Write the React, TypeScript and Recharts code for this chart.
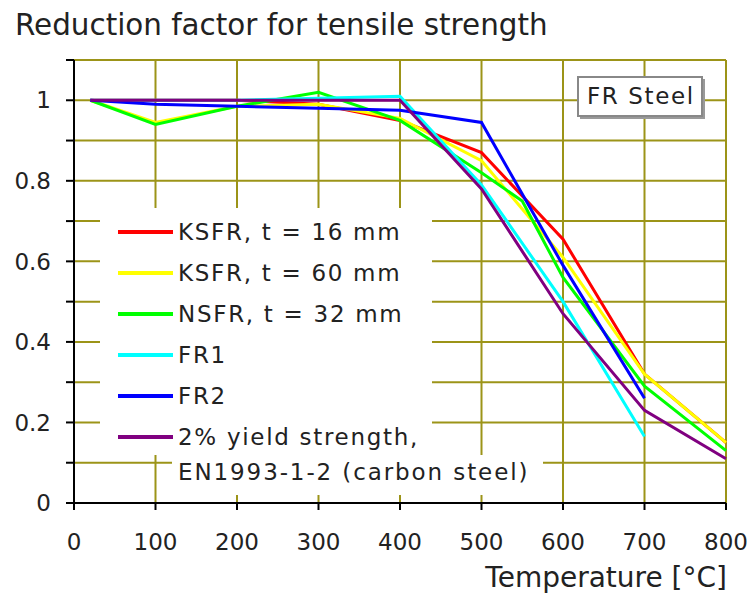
import React from 'react';
import { LineChart, Line, XAxis, YAxis, CartesianGrid, Legend, Customized } from 'recharts';

const temps = [20, 100, 200, 300, 400, 500, 550, 600, 700, 800];
const ksfr16 = [1, 1, 1, 0.99, 0.95, 0.87, null, 0.655, 0.32, 0.15];
const ksfr60 = [1, 0.945, 0.985, 0.99, 0.955, 0.85, null, 0.61, 0.32, 0.15];
const nsfr32 = [1, 0.94, 0.985, 1.02, 0.95, 0.82, 0.75, 0.56, 0.29, 0.13];
const fr1 = [1, 1, 1, 1.005, 1.01, 0.79, null, 0.5, 0.165, null];
const fr2 = [1, 0.99, 0.985, 0.98, 0.975, 0.945, null, 0.59, 0.26, null];
const carbon = [1, 1, 1, 1, 1, 0.78, null, 0.47, 0.23, 0.11];

const seriesKeys = ['ksfr16', 'ksfr60', 'nsfr32', 'fr1', 'fr2', 'carbon'];
const seriesNames = ['KSFR, t = 16 mm', 'KSFR, t = 60 mm', 'NSFR, t = 32 mm', 'FR1', 'FR2', '2% yield strength,\nEN1993-1-2 (carbon steel)'];
const seriesColors = ['#ff0000', '#ffff00', '#00ff00', '#00ffff', '#0000ff', '#800080'];

const xTicks = [0, 100, 200, 300, 400, 500, 600, 700, 800];
const yTicks = [0, 0.1, 0.2, 0.3, 0.4, 0.5, 0.6, 0.7, 0.8, 0.9, 1, 1.1];

const data = temps.map((t, i) => ({
  t,
  ksfr16: ksfr16[i],
  ksfr60: ksfr60[i],
  nsfr32: nsfr32[i],
  fr1: fr1[i],
  fr2: fr2[i],
  carbon: carbon[i]
}));

const FONT = '"DejaVu Sans", Verdana, sans-serif';
const GRID = '#9c9418';

const yLabel = (v: number) => {
  const k = Math.round(v * 10);
  if (k % 2 !== 0 || k > 10) return '';
  return String(k / 10);
};

const LegendContent = (props: any) => {
  const items = [...(props.payload || [])].sort(
    (a: any, b: any) => seriesNames.indexOf(a.value) - seriesNames.indexOf(b.value)
  );
  const rowH = 41;
  const rows: any[] = [];
  let extra: any = null;
  items.forEach((it: any, i: number) => {
    const parts = String(it.value).split('\n');
    const cy = 24 + i * rowH;
    rows.push(
      <div key={i} style={{ position: 'absolute', left: 0, top: cy - 20, width: 332, height: rowH }}>
        <div style={{ position: 'absolute', left: 18, top: 18, width: 55, height: 4, background: it.color }} />
        <div style={{ position: 'absolute', left: 78, top: 5, fontSize: 23, letterSpacing: 1.7, lineHeight: '30px', whiteSpace: 'nowrap', color: '#222' }}>{parts[0]}</div>
      </div>
    );
    if (parts[1]) {
      extra = (
        <div style={{ position: 'absolute', left: 72, top: 247, width: 371, height: 40, background: '#fff' }}>
          <div style={{ position: 'absolute', left: 6, top: 2, fontSize: 23, letterSpacing: 1.9, lineHeight: '30px', whiteSpace: 'nowrap', color: '#222' }}>{parts[1]}</div>
        </div>
      );
    }
  });
  return (
    <div style={{ position: 'absolute', left: 100, top: 208, fontFamily: FONT }}>
      <div style={{ position: 'absolute', left: 0, top: 0, width: 332, height: 247, background: '#fff' }}>{rows}</div>
      {extra}
    </div>
  );
};

const Decorations = () => (
  <g fontFamily={FONT}>
    <text x={15} y={35} fontSize={29.4} fill="#222">Reduction factor for tensile strength</text>
    <text x={727} y={587} fontSize={28} fill="#222" textAnchor="end">Temperature [°C]</text>
    <rect x={580} y={79} width={125} height={40} fill="#999" />
    <rect x={578} y={77} width={124} height={39} fill="#fff" stroke="#888" strokeWidth={2} />
    <text x={587} y={104} fontSize={23} letterSpacing={1.6} fill="#222">FR Steel</text>
  </g>
);

export default function App() {
  return (
    <div style={{ position: 'absolute', left: 0, top: 0, background: '#fff' }}>
      <LineChart width={752} height={597} data={data} margin={{ top: 60, right: 26, left: 0, bottom: 0 }}>
        <CartesianGrid stroke={GRID} strokeWidth={2} />
        <XAxis
          dataKey="t"
          type="number"
          domain={[0, 800]}
          ticks={xTicks}
          height={94}
          stroke="#000"
          strokeWidth={2}
          tickSize={7}
          tickMargin={24}
          tick={{ fontSize: 23, fill: '#222', fontFamily: FONT }}
          interval={0}
        />
        <YAxis
          type="number"
          domain={[0, 1.1]}
          ticks={yTicks}
          width={74}
          stroke="#000"
          strokeWidth={2}
          tickSize={8}
          tickMargin={15}
          tickFormatter={yLabel}
          tick={{ fontSize: 23, fill: '#222', fontFamily: FONT }}
          interval={0}
        />
        {seriesKeys.map((k, i) => (
          <Line
            key={k}
            type="linear"
            dataKey={k}
            name={seriesNames[i]}
            stroke={seriesColors[i]}
            strokeWidth={3}
            dot={false}
            connectNulls
            isAnimationActive={false}
          />
        ))}
        <Legend
          layout="horizontal"
          verticalAlign="middle"
          align="center"
          content={LegendContent}
          wrapperStyle={{ position: 'absolute', left: 0, top: 0, width: 0, height: 0 }}
        />
        <Customized component={Decorations} />
      </LineChart>
    </div>
  );
}
